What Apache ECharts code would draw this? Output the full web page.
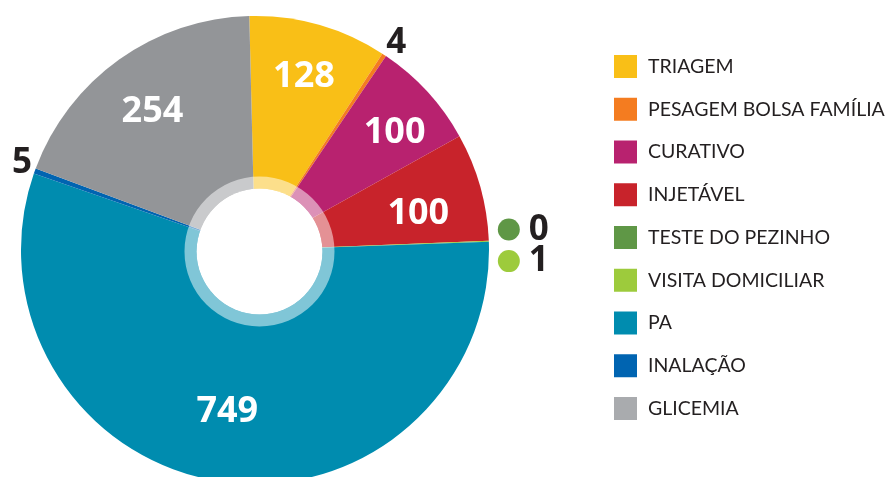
<!DOCTYPE html>
<html>
<head>
<meta charset="utf-8">
<script src="https://cdn.jsdelivr.net/npm/echarts@6/dist/echarts.min.js"></script>
<style>
  html, body { margin: 0; background: #fff; }
  #chart { width: 890px; height: 477px; }
</style>
</head>
<body>
<div id="chart"></div>
<script>
// procedimentos realizados
const categories = ['TRIAGEM', 'PESAGEM BOLSA FAMÍLIA', 'CURATIVO', 'INJETÁVEL', 'TESTE DO PEZINHO',
  'VISITA DOMICILIAR', 'PA', 'INALAÇÃO', 'GLICEMIA'];
const values = [128, 4, 100, 100, 0, 1, 749, 5, 254];

const sliceColors = ['#F9BF17', '#F47C20', '#B8226F', '#C8232B', '#5F9746', '#9DCB3C', '#008CAF', '#0064B1', '#939598'];
const legendColors = ['#F9BF17', '#F47C20', '#B8226F', '#C8232B', '#5F9746', '#9DCB3C', '#008CAF', '#0064B1', '#A9ABAE'];

// layout
const center = [255, 250];
const holeCenter = [259.5, 251.5];
const startAngle = 91.4;
const bigValue = 50;           // acima disso, rótulo dentro da fatia
const dotItems = [4, 5];       // rótulos com bolinha
// ajustes finos dos rótulos [dx, dy]
const outerNudge = { 1: [-5, -9], 4: [0, -11], 5: [0, 20], 7: [6, -7] };
const innerNudge = { 2: [7, 4], 3: [-10, 12], 6: [-1, -16], 8: [2, 8] };

const chart = echarts.init(document.getElementById('chart'), null, { renderer: 'canvas' });

const outerData = categories.map((name, i) => {
  const small = values[i] < bigValue;
  const dot = dotItems.includes(i);
  return {
    name,
    value: values[i],
    itemStyle: { color: sliceColors[i] },
    label: {
      show: small,
      formatter: dot ? '{dot|}{num|{c}}' : '{num|{c}}',
      rich: {
        dot: { width: 22, height: 22, borderRadius: 11, backgroundColor: sliceColors[i] },
        num: {
          fontFamily: "'Open Sans', sans-serif", fontWeight: 'bold', fontSize: 35,
          color: '#231F20', padding: dot ? [0, 0, 0, 9] : 0
        }
      }
    }
  };
});

const innerData = categories.map((name, i) => ({
  name,
  value: values[i],
  label: { show: values[i] >= bigValue }
}));

chart.setOption({
  animation: false,
  legend: {
    orient: 'vertical',
    left: 609,
    top: 50,
    itemWidth: 23,
    itemHeight: 23,
    itemGap: 19.75,
    icon: 'rect',
    selectedMode: false,
    textStyle: {
      fontFamily: 'Lato, sans-serif',
      fontSize: 19.5,
      color: '#231F20',
      padding: [0, 0, 0, 6]
    },
    data: categories.map((name, i) => ({ name, itemStyle: { color: legendColors[i] } }))
  },
  series: [
    {
      type: 'pie',
      center: center,
      radius: [0, 234],
      startAngle: startAngle,
      clockwise: true,
      silent: true,
      avoidLabelOverlap: false,
      label: { position: 'outside', distanceToLabelLine: 5 },
      labelLine: { show: false, length: 4, length2: 0 },
      labelLayout: p => {
        const n = outerNudge[p.dataIndex];
        return n ? { dx: n[0], dy: n[1] } : {};
      },
      data: outerData
    },
    {
      // só rótulos internos
      type: 'pie',
      center: center,
      radius: [120, 234],
      startAngle: startAngle,
      clockwise: true,
      silent: true,
      itemStyle: { color: 'rgba(0,0,0,0)' },
      label: {
        position: 'inside',
        formatter: '{c}',
        color: '#fff',
        fontFamily: "'Open Sans', sans-serif",
        fontWeight: 'bold',
        fontSize: 36
      },
      labelLayout: p => {
        const n = innerNudge[p.dataIndex];
        return n ? { dx: n[0], dy: n[1] } : {};
      },
      data: innerData
    },
    {
      // anel translúcido
      type: 'pie',
      center: holeCenter,
      radius: [63, 75],
      silent: true,
      label: { show: false },
      itemStyle: { color: 'rgba(255,255,255,0.5)' },
      data: [{ value: 1, name: '' }]
    },
    {
      type: 'pie',
      center: holeCenter,
      radius: [0, 63],
      silent: true,
      label: { show: false },
      itemStyle: { color: '#fff' },
      data: [{ value: 1, name: ' ' }]
    }
  ]
});
</script>
</body>
</html>
